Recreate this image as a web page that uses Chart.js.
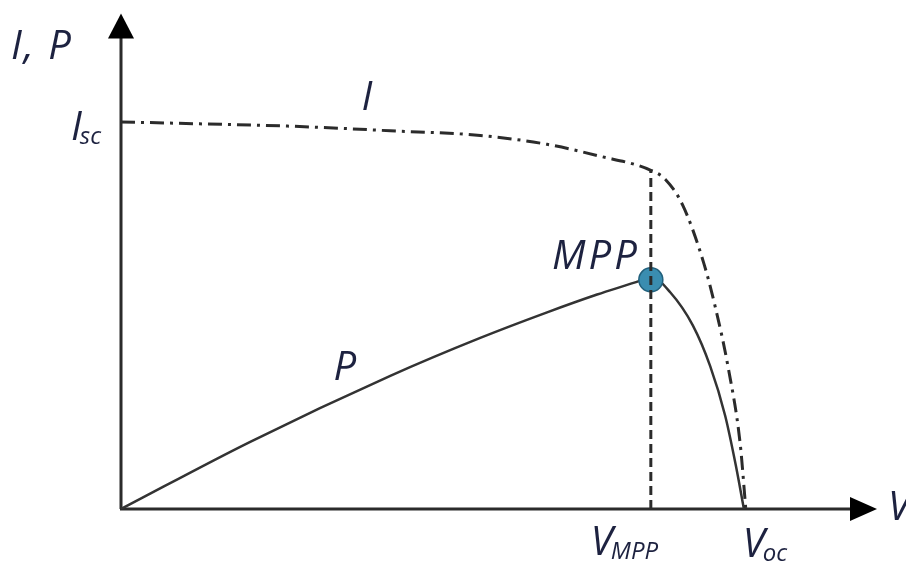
<!DOCTYPE html>
<html>
<head>
<meta charset="utf-8">
<title>I-V and P-V curve</title>
<script src="https://cdn.jsdelivr.net/npm/chart.js@4.4.1/dist/chart.umd.min.js"></script>
<style>
  body { margin: 0; background: #fff; }
  #wrap { width: 906px; height: 562px; position: relative; }
</style>
</head>
<body>
<div id="wrap"><canvas id="myChart"></canvas></div>
<script>
// normalised values: V / Voc, I / Isc, P on the same axis
var vI    = [0, 0.126, 0.286, 0.431, 0.575, 0.682, 0.762, 0.848, 0.871, 0.899, 0.932, 0.951, 0.972, 0.991, 1.0];
var iVals = [1.0, 0.995, 0.988, 0.977, 0.965, 0.942, 0.913, 0.875, 0.852, 0.785, 0.639, 0.523, 0.364, 0.169, 0];

var vP    = [0, 0.206, 0.431, 0.575, 0.682, 0.762, 0.831, 0.848, 0.879, 0.915, 0.943, 0.967, 0.984, 0.997];
var pVals = [0, 0.173, 0.344, 0.442, 0.508, 0.554, 0.590, 0.600, 0.560, 0.475, 0.369, 0.241, 0.113, 0];

var seriesNames = ['I', 'P', 'MPP'];
var axisNames = ['V', 'I, P'];
var xTickMain = ['V', 'V'];
var xTickSub = ['MPP', 'oc'];
var yTickMain = ['I'];
var yTickSub = ['sc'];

function toPoints(xs, ys){
  return xs.map(function(x, i){ return { x: x, y: ys[i] }; });
}

// maximum power point taken from the P series
var mppIdx = 0;
pVals.forEach(function(p, i){ if (p > pVals[mppIdx]) mppIdx = i; });
var vMpp = vP[mppIdx];
var iAtMpp = iVals[vI.indexOf(vMpp)];
var vOc = vI[vI.length - 1];
var iSc = iVals[0];

var xTickValues = [vMpp, vOc];
var yTickValues = [iSc];

var ink = '#2b2b2b';
var textCol = '#1d2240';
var fontMain = 'italic 40px "Open Sans"';
var fontSub = 'italic 24px "Open Sans"';

function drawSub(ctx, x, y, main, sub){
  ctx.font = fontMain;
  ctx.fillText(main, x, y);
  var w = ctx.measureText(main).width;
  ctx.font = fontSub;
  ctx.fillText(sub, x + w - 2, y + 4);
  return w + ctx.measureText(sub).width - 2;
}

var axesPlugin = {
  id: 'axesPlugin',
  beforeDatasetsDraw: function(chart){
    var ctx = chart.ctx;
    var a = chart.chartArea;
    var xs = chart.scales.x, ys = chart.scales.y;
    var x0 = xs.getPixelForValue(0), y0 = ys.getPixelForValue(0);
    ctx.save();
    ctx.strokeStyle = ink;
    ctx.fillStyle = '#000';
    ctx.lineWidth = 3;
    ctx.beginPath();
    ctx.moveTo(x0, y0);
    ctx.lineTo(x0, a.top + 20);
    ctx.moveTo(x0 - 1, y0);
    ctx.lineTo(a.right - 20, y0);
    ctx.stroke();
    // arrow heads
    ctx.beginPath();
    ctx.moveTo(x0, a.top);
    ctx.lineTo(x0 - 13, a.top + 25);
    ctx.lineTo(x0 + 13, a.top + 25);
    ctx.closePath();
    ctx.fill();
    ctx.beginPath();
    ctx.moveTo(a.right, y0);
    ctx.lineTo(a.right - 27, y0 - 12);
    ctx.lineTo(a.right - 27, y0 + 12);
    ctx.closePath();
    ctx.fill();
    ctx.restore();
  },
  afterDraw: function(chart){
    var ctx = chart.ctx;
    var a = chart.chartArea;
    var xs = chart.scales.x, ys = chart.scales.y;
    var x0 = xs.getPixelForValue(0), y0 = ys.getPixelForValue(0);
    ctx.save();
    ctx.fillStyle = textCol;
    ctx.textBaseline = 'alphabetic';
    ctx.textAlign = 'left';

    // axis titles
    ctx.font = fontMain;
    ctx.letterSpacing = '2px';
    ctx.fillText(axisNames[1], 11, a.top + 45);
    ctx.letterSpacing = '0px';
    ctx.fillText(axisNames[0], a.right + 11, y0 + 11);

    // tick labels
    ctx.font = fontMain;
    var wI = ctx.measureText(yTickMain[0]).width;
    ctx.font = fontSub;
    var wSc = ctx.measureText(yTickSub[0]).width;
    drawSub(ctx, x0 - 20 - wI - wSc + 2, ys.getPixelForValue(yTickValues[0]) + 18, yTickMain[0], yTickSub[0]);
    drawSub(ctx, xs.getPixelForValue(xTickValues[0]) - 60, y0 + 46, xTickMain[0], xTickSub[0]);
    drawSub(ctx, xs.getPixelForValue(xTickValues[1]) - 3, y0 + 48, xTickMain[1], xTickSub[1]);

    // curve labels
    ctx.font = fontMain;
    ctx.fillText(seriesNames[0], xs.getPixelForValue(0.385), ys.getPixelForValue(iVals[3]) - 21);
    ctx.fillText(seriesNames[1], xs.getPixelForValue(0.34), ys.getPixelForValue(pVals[2]) + 4);
    ctx.textAlign = 'right';
    ctx.letterSpacing = '3px';
    ctx.fillText(seriesNames[2], xs.getPixelForValue(vMpp) - 11, ys.getPixelForValue(pVals[mppIdx]) - 8);
    ctx.letterSpacing = '0px';
    ctx.restore();
  }
};

var ctx = document.getElementById('myChart').getContext('2d');
var chart = new Chart(ctx, {
  type: 'scatter',
  data: {
    datasets: [
      {
        label: 'MPP line',
        data: [{ x: vMpp, y: 0 }, { x: vMpp, y: iAtMpp }],
        showLine: true,
        borderColor: ink,
        borderWidth: 3,
        borderDash: [9, 5],
        pointRadius: 0,
        order: 0
      },
      {
        label: seriesNames[2],
        data: [{ x: vMpp, y: pVals[mppIdx] - 0.008 }],
        backgroundColor: '#3a8db0',
        borderColor: '#22607c',
        borderWidth: 1.5,
        pointRadius: 12,
        order: 1
      },
      {
        label: seriesNames[0],
        data: toPoints(vI, iVals),
        showLine: true,
        borderColor: ink,
        borderWidth: 3,
        borderDash: [14, 6, 3, 6],
        cubicInterpolationMode: 'monotone',
        pointRadius: 0,
        order: 2
      },
      {
        label: seriesNames[1],
        data: toPoints(vP, pVals),
        showLine: true,
        borderColor: '#333',
        borderWidth: 2.5,
        cubicInterpolationMode: 'monotone',
        pointRadius: 0,
        order: 2
      }
    ]
  },
  options: {
    responsive: true,
    maintainAspectRatio: false,
    devicePixelRatio: 1,
    animation: false,
    events: [],
    layout: {
      padding: { left: 121, right: 29, top: 10, bottom: 53 }
    },
    scales: {
      x: { type: 'linear', min: 0, max: 1.21, display: false },
      y: { type: 'linear', min: 0, max: 1.28, display: false }
    },
    plugins: {
      legend: { display: false },
      tooltip: { enabled: false }
    }
  },
  plugins: [axesPlugin]
});
</script>
</body>
</html>
